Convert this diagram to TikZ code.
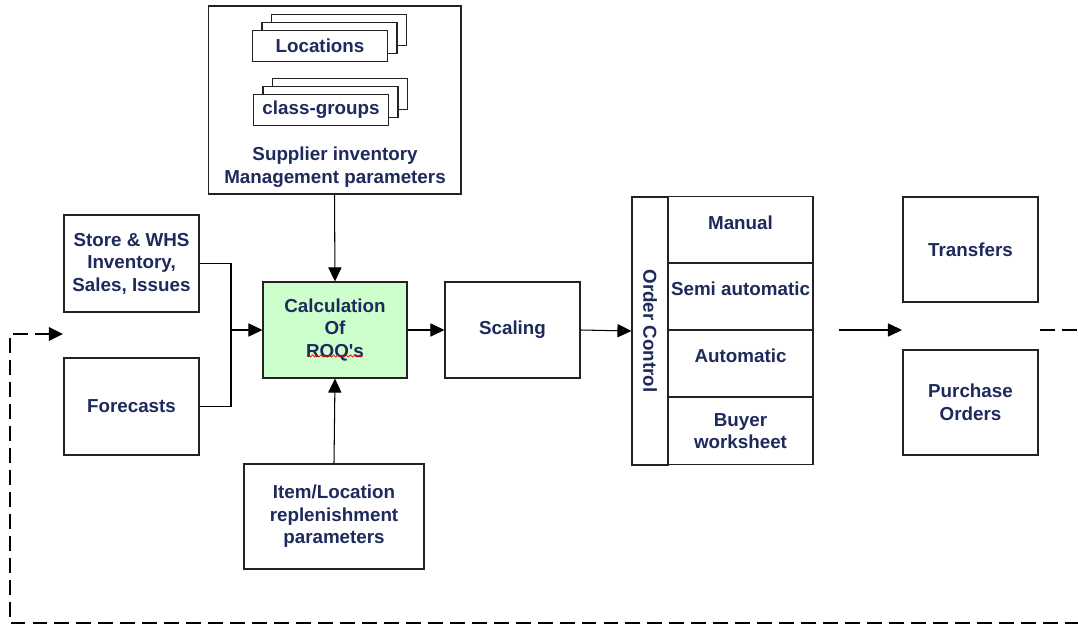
\documentclass[tikz,border=0pt]{standalone}
\usepackage{fontspec}
\setmainfont{Liberation Sans}
\usetikzlibrary{arrows.meta}
\usetikzlibrary{decorations.pathmorphing}
\definecolor{navy}{HTML}{1F2A5C}
\definecolor{calcgreen}{HTML}{CCFFCC}
\definecolor{edgegray}{HTML}{222222}
\tikzset{x=0.02cm, y=-0.02cm,
    >={Triangle[length=8pt,width=7.5pt]},
    box/.style={
        draw=edgegray,
        line width=0.6pt,
        fill=white,
        align=center,
        inner sep=1pt,
        text=navy,
        font=\bfseries\fontsize{10.7}{12.8}\selectfont,
        minimum width=2.7cm,
        minimum height=1.94cm},
    label/.style={
        box,
        draw=none,
        fill=none,
        minimum width=0pt,
        minimum height=0pt},
    stackbox/.style={
        box,
        minimum width=2.7cm,
        minimum height=0.62cm},
    rowbox/.style={
        box,
        minimum width=2.9cm,
        minimum height=1.34cm},
    arrow/.style={
        draw=black,
        ->,
        line width=0.6pt},
    feedback/.style={
        draw=black,
        ->,
        line width=1.4pt,
        dash pattern=on 8.5pt off 4pt},
    squiggle/.style={
        draw=red,
        line width=0.4pt,
        decorate,
        decoration={snake, amplitude=0.6pt, segment length=2.4pt}}}

\begin{document}
\begin{tikzpicture}
        \useasboundingbox (0,0) rectangle (1078,628);
        % supplier parameters
        \node[box, minimum width=5.06cm, minimum height=3.76cm] (sup) at (334.5,100) {};
        \node[stackbox] (locC) at (339,30) {};
        \node[stackbox] (locB) at (329.5,38) {};
        \node[stackbox] (loc) at (320,46) {Locations};
        \node[stackbox] (clsC) at (340,94) {};
        \node[stackbox] (clsB) at (330.5,102) {};
        \node[stackbox] (cls) at (321,110) {class-groups};
        \node[label] (suptext) at (335,167) {Supplier inventory\\Management parameters};
        % inputs
        \node[box] (store) at (131.5,263.5) {Store \& WHS\\Inventory,\\Sales, Issues};
        \node[box] (fc) at (131.5,406.5) {Forecasts};
        \node[box, fill=calcgreen, minimum width=2.88cm, minimum height=1.92cm] (calc) at (335,330)
            {Calculation\\Of\\ROQ\textquotesingle s};
        \node[box, minimum height=1.92cm] (scal) at (512.5,330) {Scaling};
        \node[box, minimum width=3.6cm, minimum height=2.1cm] (item) at (334,516.5)
            {Item/Location\\replenishment\\parameters};
        % order control
        \node[box, minimum width=0.72cm, minimum height=5.36cm] (ocl) at (650,331) {};
        \node[label, rotate=-90] (octext) at (650,331) {Order Control};
        \node[rowbox] (man) at (740.5,230) {Manual\\[-4pt]};
        \node[rowbox] (semi) at (740.5,296.5) {Semi automatic\\[-4pt]};
        \node[rowbox] (auto) at (740.5,363.5) {Automatic\\[-4pt]};
        \node[rowbox] (buyer) at (740.5,431) {Buyer\\worksheet};
        % outputs
        \node[box, minimum height=2.1cm] (trf) at (970.5,249.5) {Transfers};
        \node[box, minimum height=2.1cm] (po) at (970.5,402.5) {Purchase\\Orders};

        \coordinate (join) at (231,330);
        \coordinate (outA) at (839,330);
        \coordinate (outB) at (902,330);
        \coordinate (fbstart) at (1040,330);
        \coordinate (fbend) at (63,334);

        \draw[arrow] (sup.south) -- (calc.north);
        \draw[arrow] (item.north) -- (calc.south);
        \draw[line width=0.6pt] (store.east) -| (join);
        \draw[line width=0.6pt] (fc.east) -| (join);
        \draw[arrow] (join) -- (calc.west);
        \draw[arrow] (calc.east) -- (scal.west);
        \draw[arrow] (scal.east) -- (ocl.west);
        \draw[arrow] (outA) -- (outB);
        \begin{scope}
            \clip (0,0) rectangle (1078,628);
            \draw[feedback] (fbstart) -- (1100,330) |- (10,623) |- (fbend);
        \end{scope}
        \draw[squiggle] (307,356) -- (363,356);
    \end{tikzpicture}
\end{document}
